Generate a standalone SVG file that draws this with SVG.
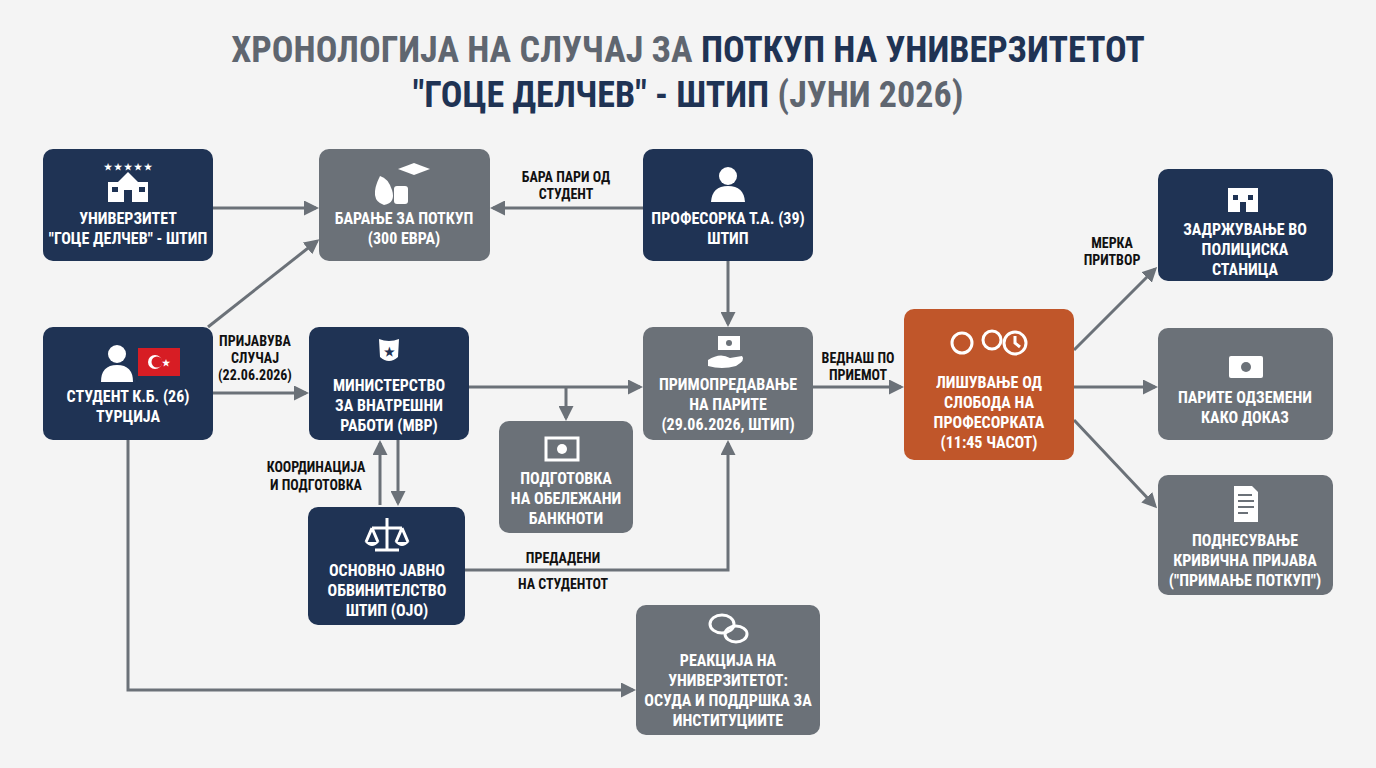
<svg xmlns="http://www.w3.org/2000/svg" width="1376" height="768" viewBox="0 0 1376 768">
<defs>
<style>
text{font-family:"Liberation Sans Narrow","Roboto Condensed","Roboto",sans-serif;font-weight:bold;text-anchor:middle}
.nt{fill:#fff;font-size:16px}
.lb{fill:#111;font-size:14px}
.navy{fill:#1f3354}
.gray{fill:#6b7178}
.org{fill:#c0562a}
.c{stroke:#6b7178;stroke-width:3;fill:none;marker-end:url(#a)}
.ic{fill:#fff}
.ics{fill:none;stroke:#fff;stroke-width:3}
</style>
<marker id="a" viewBox="0 0 10 10" refX="8" refY="5" markerWidth="5" markerHeight="5" orient="auto"><path d="M0,0L10,5L0,10z" fill="#6b7178"/></marker>
</defs>
<rect width="1376" height="768" fill="#f4f4f4"/>
<text x="688" y="62" style="font-size:36px"><tspan fill="#5f6670">ХРОНОЛОГИЈА НА СЛУЧАЈ ЗА </tspan><tspan fill="#1f3354">ПОТКУП НА УНИВЕРЗИТЕТОТ</tspan></text>
<text x="688" y="107" style="font-size:36px"><tspan fill="#1f3354">"ГОЦЕ ДЕЛЧЕВ" - ШТИП </tspan><tspan fill="#5f6670">(ЈУНИ 2026)</tspan></text>

<g id="connectors">
<path class="c" d="M213,208H316"/>
<path class="c" d="M643,208H493"/>
<path class="c" d="M208,327L317,241"/>
<path class="c" d="M213,393H306"/>
<path class="c" d="M469,387H640"/>
<path class="c" d="M566,387V418"/>
<path class="c" d="M728,261V324"/>
<path class="c" d="M380,505V443"/>
<path class="c" d="M398,440V503"/>
<path class="c" d="M465,570H728V443"/>
<path class="c" d="M813,387H901"/>
<path class="c" d="M1074,350L1155,269"/>
<path class="c" d="M1074,387H1155"/>
<path class="c" d="M1074,420L1155,506"/>
<path class="c" d="M128,440V690H633"/>
<text class="lb" x="566" y="182">БАРА ПАРИ ОД</text>
<text class="lb" x="566" y="199">СТУДЕНТ</text>
<text class="lb" x="255" y="346">ПРИЈАВУВА</text>
<text class="lb" x="255" y="363">СЛУЧАЈ</text>
<text class="lb" x="255" y="380">(22.06.2026)</text>
<text class="lb" x="316" y="472">КООРДИНАЦИЈА</text>
<text class="lb" x="316" y="490">И ПОДГОТОВКА</text>
<text class="lb" x="563" y="563">ПРЕДАДЕНИ</text>
<text class="lb" x="563" y="589">НА СТУДЕНТОТ</text>
<text class="lb" x="858" y="363">ВЕДНАШ ПО</text>
<text class="lb" x="858" y="380">ПРИЕМОТ</text>
<text class="lb" x="1112" y="248">МЕРКА</text>
<text class="lb" x="1112" y="265">ПРИТВОР</text>
</g>

<g id="univ">
<rect class="navy" x="43" y="149" width="170" height="112" rx="10"/>
<rect class="ic" x="108" y="182" width="40" height="20"/><path class="ic" d="M118,182L128,172L138,182z"/>
<g fill="#1f3354"><rect x="124" y="190" width="8" height="12"/><rect x="112" y="187" width="6" height="5"/><rect x="139" y="187" width="6" height="5"/></g>
<text class="ic" x="128" y="170" style="font-size:9px">★ ★ ★ ★ ★</text>
<text class="nt" x="128" y="224">УНИВЕРЗИТЕТ</text>
<text class="nt" x="128" y="244">"ГОЦЕ ДЕЛЧЕВ" - ШТИП</text>
</g>

<g id="barane">
<rect class="gray" x="319" y="149" width="171" height="112" rx="10"/>
<path class="ic" d="M380,176Q368,200 384,205Q396,203 392,190Q388,178 380,176z"/>
<rect class="ic" x="394" y="186" width="14" height="18" rx="3"/>
<path class="ic" d="M398,169L414,163L430,169L414,175z"/>
<text class="nt" x="404" y="224">БАРАЊЕ ЗА ПОТКУП</text>
<text class="nt" x="404" y="244">(300 ЕВРА)</text>
</g>

<g id="profesorka">
<rect class="navy" x="643" y="149" width="170" height="112" rx="10"/>
<circle class="ic" cx="728" cy="176" r="9"/><path class="ic" d="M711,202Q712,186 728,186Q744,186 745,202z"/>
<text class="nt" x="728" y="224">ПРОФЕСОРКА Т.А. (39)</text>
<text class="nt" x="728" y="244">ШТИП</text>
</g>

<g id="student">
<rect class="navy" x="43" y="327" width="170" height="113" rx="10"/>
<circle class="ic" cx="117" cy="354" r="9"/><path class="ic" d="M101,382Q101,365 117,365Q133,365 133,382z"/>
<rect x="138" y="348" width="42" height="28" fill="#d71d24"/>
<circle cx="155" cy="362" r="7" fill="#fff"/><circle cx="157" cy="362" r="5.5" fill="#d71d24"/>
<text x="166" y="366" fill="#fff" style="font-size:9px">★</text>
<text class="nt" x="128" y="402">СТУДЕНТ К.Б. (26)</text>
<text class="nt" x="128" y="422">ТУРЦИЈА</text>
</g>

<g id="mvr">
<rect class="navy" x="309" y="327" width="160" height="113" rx="10"/>
<path class="ic" d="M379,339Q389,343 399,339L398,357Q389,365 380,357z"/>
<text x="389" y="356" fill="#1f3354" style="font-size:12px">★</text>
<text class="nt" x="389" y="391">МИНИСТЕРСТВО</text>
<text class="nt" x="389" y="411">ЗА ВНАТРЕШНИ</text>
<text class="nt" x="389" y="431">РАБОТИ (МВР)</text>
</g>

<g id="primo">
<rect class="gray" x="643" y="327" width="170" height="113" rx="10"/>
<rect class="ic" x="718" y="336" width="22" height="14"/><circle cx="729" cy="343" r="3" fill="#6b7178"/>
<path class="ic" d="M708,360Q720,352 730,358L742,356Q746,360 736,366Q722,370 708,366z"/>
<text class="nt" x="728" y="390">ПРИМОПРЕДАВАЊЕ</text>
<text class="nt" x="728" y="410">НА ПАРИТЕ</text>
<text class="nt" x="728" y="430">(29.06.2026, ШТИП)</text>
</g>

<g id="podgotovka">
<rect class="gray" x="499" y="421" width="134" height="112" rx="10"/>
<rect class="ics" x="546" y="438" width="32" height="22"/><circle cx="562" cy="449" r="5" class="ic"/>
<text class="nt" x="566" y="484">ПОДГОТОВКА</text>
<text class="nt" x="566" y="504">НА ОБЕЛЕЖАНИ</text>
<text class="nt" x="566" y="524">БАНКНОТИ</text>
</g>

<g id="ojo">
<rect class="navy" x="308" y="507" width="157" height="118" rx="10"/>
<path class="ics" d="M387,518V550M372,528H402M375,550H399M372,528L366,542M372,528L378,542M402,528L396,542M402,528L408,542"/>
<path class="ic" d="M365,542H379Q372,550 365,542zM395,542H409Q402,550 395,542z"/>
<text class="nt" x="387" y="576">ОСНОВНО ЈАВНО</text>
<text class="nt" x="387" y="596">ОБВИНИТЕЛСТВО</text>
<text class="nt" x="387" y="616">ШТИП (ОЈО)</text>
</g>

<g id="lishuvanje">
<rect class="org" x="904" y="309" width="170" height="151" rx="10"/>
<circle class="ics" cx="962" cy="343" r="10"/><circle class="ics" cx="992" cy="340" r="9"/><circle class="ics" cx="1015" cy="343" r="11"/>
<path class="ics" d="M1015,336V343L1020,347"/>
<text class="nt" x="989" y="388">ЛИШУВАЊЕ ОД</text>
<text class="nt" x="989" y="408">СЛОБОДА НА</text>
<text class="nt" x="989" y="428">ПРОФЕСОРКАТА</text>
<text class="nt" x="989" y="448">(11:45 ЧАСОТ)</text>
</g>

<g id="zadrzuvanje">
<rect class="navy" x="1158" y="169" width="175" height="112" rx="10"/>
<rect class="ic" x="1228" y="188" width="30" height="24"/>
<g fill="#1f3354"><rect x="1233" y="195" width="5" height="5"/><rect x="1248" y="195" width="5" height="5"/><rect x="1240" y="202" width="6" height="10"/></g>
<text class="nt" x="1245" y="235">ЗАДРЖУВАЊЕ ВО</text>
<text class="nt" x="1245" y="255">ПОЛИЦИСКА</text>
<text class="nt" x="1245" y="275">СТАНИЦА</text>
</g>

<g id="parite">
<rect class="gray" x="1158" y="328" width="175" height="112" rx="10"/>
<rect class="ic" x="1229" y="356" width="34" height="22" rx="2"/><circle cx="1246" cy="367" r="5" fill="#6b7178"/>
<text class="nt" x="1245" y="403">ПАРИТЕ ОДЗЕМЕНИ</text>
<text class="nt" x="1245" y="423">КАКО ДОКАЗ</text>
</g>

<g id="podnesuvanje">
<rect class="gray" x="1158" y="475" width="175" height="120" rx="10"/>
<path class="ic" d="M1234,486H1252L1258,492V522H1234z"/>
<path d="M1238,495H1252M1238,501H1254M1238,507H1254M1238,513H1248" stroke="#6b7178" stroke-width="2"/>
<text class="nt" x="1245" y="546">ПОДНЕСУВАЊЕ</text>
<text class="nt" x="1245" y="566">КРИВИЧНА ПРИЈАВА</text>
<text class="nt" x="1245" y="586">("ПРИМАЊЕ ПОТКУП")</text>
</g>

<g id="reakcija">
<rect class="gray" x="636" y="605" width="184" height="130" rx="10"/>
<ellipse class="ics" cx="722" cy="624" rx="12" ry="9"/><ellipse class="ics" cx="736" cy="634" rx="11" ry="8"/>
<text class="nt" x="728" y="666">РЕАКЦИЈА НА</text>
<text class="nt" x="728" y="686">УНИВЕРЗИТЕТОТ:</text>
<text class="nt" x="728" y="706">ОСУДА И ПОДДРШКА ЗА</text>
<text class="nt" x="728" y="726">ИНСТИТУЦИИТЕ</text>
</g>
</svg>
